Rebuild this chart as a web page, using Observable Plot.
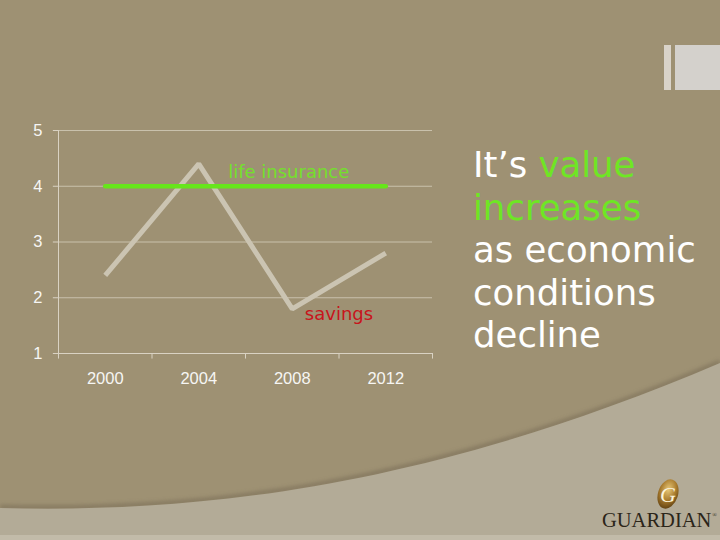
<!DOCTYPE html>
<html>
<head>
<meta charset="utf-8">
<script src="https://cdn.jsdelivr.net/npm/d3@7"></script>
<script src="https://cdn.jsdelivr.net/npm/@observablehq/plot@0.6"></script>
<style>
  html, body { margin: 0; padding: 0; }
  body { width: 720px; height: 540px; overflow: hidden; background: #9e9173; position: relative; }
  #bg { position: absolute; left: 0; top: 0; }
  #chart { position: absolute; left: 0; top: 0; }
  #msg { position: absolute; left: 473px; top: 144px; font-family: "DejaVu Sans", sans-serif; font-weight: normal;
         font-size: 35.5px; line-height: 42.5px; color: #ffffff; white-space: nowrap; }
  #msg .hl { color: #6ee624; }
  #logo { position: absolute; left: 602px; top: 509px; font-family: "Liberation Serif", serif;
          font-size: 20.5px; color: #2b2519; letter-spacing: 0px; }
  #logo sup { font-size: 6px; vertical-align: 10px; margin-left: 1px; }
</style>
</head>
<body>
<svg id="bg" width="720" height="540" xmlns="http://www.w3.org/2000/svg">
  <defs>
    <radialGradient id="gold" cx="45%" cy="35%" r="70%">
      <stop offset="0%" stop-color="#e8c878"/>
      <stop offset="55%" stop-color="#a87a2c"/>
      <stop offset="100%" stop-color="#5a3c10"/>
    </radialGradient>
    <filter id="sh" x="-10%" y="-10%" width="120%" height="130%">
      <feGaussianBlur stdDeviation="2"/>
    </filter>
  </defs>
  <path d="M0,507 C190,512 420,490 720,362" fill="none" stroke="#6f6450" stroke-width="4" opacity="0.6" filter="url(#sh)"/>
  <path d="M0,508 C190,513 420,491 720,363 L720,540 L0,540 Z" fill="#b3ab97"/>
  <rect x="0" y="535" width="720" height="5" fill="#c2bba9"/>
  <rect x="664" y="45" width="7" height="45" fill="#d9d3c9"/>
  <rect x="675" y="45" width="45" height="45" fill="#d4d1cc"/>
  <ellipse cx="668" cy="494" rx="10" ry="15" transform="rotate(18 668 494)" fill="url(#gold)"/>
  <text x="668" y="502" text-anchor="middle" font-family="Liberation Serif, serif" font-style="italic" font-size="22" fill="#fbf3dc">G</text>
</svg>
<div id="chart"></div>
<div id="msg">It’s <span class="hl">value</span><br><span class="hl">increases</span><br>as economic<br>conditions<br>decline</div>
<div id="logo">GUARDIAN<sup>®</sup></div>
<script>
// ---- data ----
const years = [2000, 2004, 2008, 2012];
const savings = [2.4, 4.4, 1.8, 2.8];
const lifeInsurance = [4, 4, 4, 4];
const yTicks = [1, 2, 3, 4, 5];
const gridValues = [2, 3, 4, 5];
const bandEdges = [1998, 2002, 2006, 2010, 2014];
const xDomain = [1998, 2014];
const yDomain = [1, 5];
const seriesLabels = [
  {name: "life insurance", year: 2007.85, value: 4.26, color: "#74e02c"},
  {name: "savings", year: 2010.0, value: 1.70, color: "#c8141c"}
];

const savingsData = years.map((y, i) => ({year: y, value: savings[i]}));
const lifeData = years.map((y, i) => ({year: y, value: lifeInsurance[i]}));

const chart = Plot.plot({
  width: 720,
  height: 540,
  marginLeft: 58,
  marginRight: 288,
  marginTop: 130,
  marginBottom: 187,
  style: {background: "transparent", overflow: "visible", fontFamily: "'Liberation Sans', Arial, sans-serif"},
  x: {domain: xDomain, axis: null},
  y: {domain: yDomain, axis: null},
  marks: [
    Plot.ruleY(gridValues, {y: d => d, x1: () => xDomain[0], x2: () => xDomain[1], stroke: "#c9c1ac", strokeWidth: 1}),
    Plot.ruleY([yDomain[0]], {y: d => d, x1: () => xDomain[0], x2: () => xDomain[1], stroke: "#d9d2c3", strokeWidth: 1}),
    Plot.ruleX([xDomain[0]], {x: d => d, y1: () => yDomain[0], y2: () => yDomain[1], stroke: "#d9d2c3", strokeWidth: 1}),
    Plot.ruleY(yTicks, {y: d => d, x1: () => xDomain[0] - 0.22, x2: () => xDomain[0], stroke: "#d9d2c3", strokeWidth: 1}),
    Plot.ruleX(bandEdges, {x: d => d, y1: () => yDomain[0], y2: () => yDomain[0] - 0.1, stroke: "#d9d2c3", strokeWidth: 1}),
    Plot.text(yTicks, {x: () => xDomain[0], y: d => d, text: d => String(d), dx: -16, textAnchor: "end", fill: "#f6f6f4", fontSize: 16.5}),
    Plot.text(years, {x: d => d, y: () => yDomain[0], text: d => String(d), dy: 25, fill: "#f6f6f4", fontSize: 16.5}),
    Plot.line(savingsData, {x: "year", y: "value", stroke: "#cbc4b2", strokeWidth: 5, strokeLinejoin: "miter", strokeLinecap: "butt"}),
    Plot.line(lifeData, {x: "year", y: "value", stroke: "#66e61a", strokeWidth: 4.5, strokeLinecap: "round"}),
    Plot.text(seriesLabels, {x: "year", y: "value", text: "name", fontSize: 18,
      fontFamily: "'DejaVu Sans', sans-serif"})
  ]
});
// colour each series label with its own colour
chart.querySelectorAll("text").forEach(t => {
  const lab = seriesLabels.find(s => s.name === t.textContent);
  if (lab) t.setAttribute("fill", lab.color);
});
document.getElementById("chart").appendChild(chart);
</script>
</body>
</html>
